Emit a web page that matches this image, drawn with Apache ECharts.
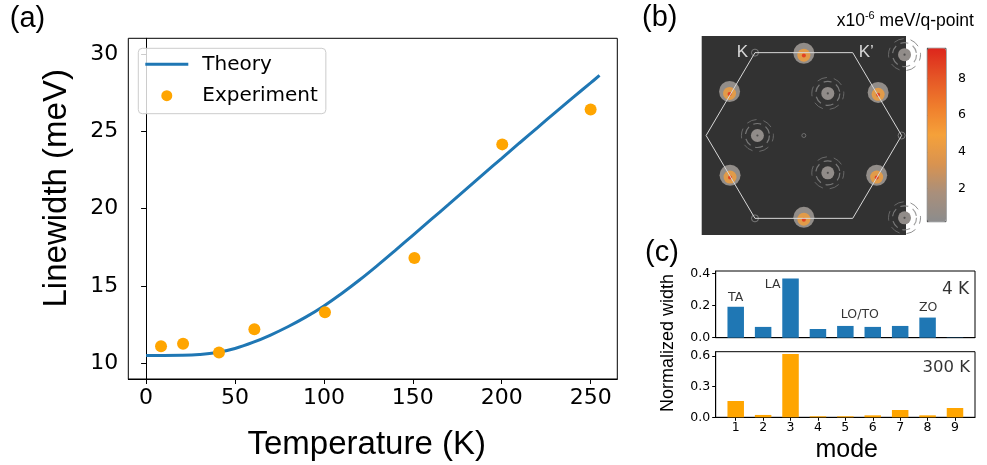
<!DOCTYPE html>
<html>
<head>
<meta charset="utf-8">
<script src="https://cdn.jsdelivr.net/npm/echarts@6/dist/echarts.min.js"></script>
<style>
  html, body { margin: 0; padding: 0; background: #fff; }
  #chart { width: 987px; height: 465px; }
</style>
</head>
<body>
<div id="chart"></div>
<script>
// ---- (a) linewidth vs temperature ----
const temperatureK = [0, 10, 20, 30, 40, 50, 60, 70, 80, 90, 100, 110, 120, 130, 140, 150, 160, 170, 180, 190, 200, 210, 220, 230, 240, 250, 255];
const theoryLinewidth = [10.52, 10.52, 10.53, 10.58, 10.71, 10.97, 11.36, 11.84, 12.39, 13.01, 13.72, 14.52, 15.39, 16.32, 17.29, 18.28, 19.27, 20.26, 21.26, 22.26, 23.25, 24.24, 25.22, 26.2, 27.17, 28.12, 28.6];
const expTemperature = [8.4, 20.8, 41, 60.9, 100.6, 150.9, 200.3, 250];
const expLinewidth = [11.12, 11.27, 10.71, 12.21, 13.31, 16.81, 24.15, 26.41];
const tempTicks = [0, 50, 100, 150, 200, 250];
const widthTicks = [10, 15, 20, 25, 30];

// ---- (b) Brillouin-zone map (hexagon radius = 1) ----
const zoneVertices = [[-0.5, 0.866], [0.5, 0.866], [1, 0], [0.5, -0.866], [-0.5, -0.866], [-1, 0], [-0.5, 0.866]];
const mPointSpots = [[0, 0.86], [-0.76, 0.46], [0.76, 0.45], [-0.755, -0.415], [0.745, -0.415], [0, -0.855]];
const spotHalo = 0.5;
const spotCore = 4.6;
const spotPeak = 8.7;
const ringSpots = [[-0.475, 0], [0.245, 0.44], [0.245, -0.39], [1.03, 0.845], [1.03, -0.86]];
const ringLevel = 0.45;
const kPoints = [[-0.5, 0.866], [1, 0], [-0.5, -0.866]];
const gammaPoint = [[0, 0]];
const cbarMin = 0.2;
const cbarMax = 9.64;
const cbarTicks = [2, 4, 6, 8];

// ---- (c) normalized width per mode ----
const modes = [1, 2, 3, 4, 5, 6, 7, 8, 9];
const width4K = [0.192, 0.067, 0.367, 0.054, 0.073, 0.067, 0.073, 0.125, 0.002];
const width300K = [0.159, 0.023, 0.617, 0.010, 0.010, 0.019, 0.071, 0.019, 0.091];
const width4KTicks = [0, 0.2, 0.4];
const width300KTicks = [0, 0.3, 0.6];
const branchLabels = ['TA', 'LA', 'LO/TO', 'ZO'];
const branchLabelPos = [[1.0, 0.248], [2.35, 0.327], [5.53, 0.141], [8.02, 0.183]];

const zip = (a, b) => a.map((v, i) => [v, b[i]]);
const TICK_FONT = 'DejaVu Sans';
const TITLE_FONT = '"Liberation Sans", Arial, Helvetica, sans-serif';
const BLUE = '#1f77b4';
const ORANGE = '#ffa500';

const chart = echarts.init(document.getElementById('chart'), null, { renderer: 'canvas' });

const boxAxis = (extra) => Object.assign({
  type: 'value',
  axisLine: { show: true, lineStyle: { color: '#000', width: 1 } },
  splitLine: { show: false }
}, extra);

const option = {
  animation: false,
  backgroundColor: '#fff',
  textStyle: { fontFamily: TICK_FONT },
  grid: [
    { left: 128.3, top: 38.3, width: 489, height: 340.7, show: true, borderColor: '#000', borderWidth: 1, backgroundColor: 'transparent', outerBoundsMode: 'none' },
    { left: 701.7, top: 36, width: 204.3, height: 199, show: true, borderWidth: 0, backgroundColor: '#323232', outerBoundsMode: 'none' },
    { left: 927.3, top: 48.3, width: 18.7, height: 173.4, show: true, borderColor: '#555', borderWidth: 1, backgroundColor: 'transparent', outerBoundsMode: 'none' },
    { left: 715.7, top: 271, width: 259.3, height: 66.7, show: true, borderColor: '#000', borderWidth: 1, backgroundColor: 'transparent', outerBoundsMode: 'none' },
    { left: 715.7, top: 351.7, width: 259.3, height: 65.6, show: true, borderColor: '#000', borderWidth: 1, backgroundColor: 'transparent', outerBoundsMode: 'none' }
  ],
  xAxis: [
    boxAxis({
      gridIndex: 0, min: -10, max: 265,
      axisTick: { show: true, length: 5, customValues: tempTicks, lineStyle: { color: '#000' } },
      axisLabel: { customValues: tempTicks, fontSize: 22, fontFamily: TICK_FONT, color: '#000', margin: 8 }
    }),
    { gridIndex: 1, type: 'value', min: -1.045, max: 1.045, show: false },
    { gridIndex: 2, type: 'value', min: 0, max: 1, show: false },
    boxAxis({
      gridIndex: 3, min: 0.27, max: 9.73,
      axisTick: { show: false }, axisLabel: { show: false }
    }),
    boxAxis({
      gridIndex: 4, min: 0.27, max: 9.73,
      axisTick: { show: true, length: 3.5, customValues: modes, lineStyle: { color: '#000' } },
      axisLabel: { customValues: modes, fontSize: 12.5, fontFamily: TICK_FONT, color: '#000', margin: 4 }
    })
  ],
  yAxis: [
    boxAxis({
      gridIndex: 0, min: 9, max: 31,
      axisTick: { show: true, length: 5, customValues: widthTicks, lineStyle: { color: '#000' } },
      axisLabel: { customValues: widthTicks, fontSize: 22, fontFamily: TICK_FONT, color: '#000', margin: 10 }
    }),
    { gridIndex: 1, type: 'value', min: -1.04, max: 1.04, show: false },
    {
      gridIndex: 2, type: 'value', position: 'right', min: cbarMin, max: cbarMax,
      axisLine: { show: true, lineStyle: { color: '#555' } },
      splitLine: { show: false },
      axisTick: { show: true, length: 3.5, customValues: cbarTicks, lineStyle: { color: '#333' } },
      axisLabel: { customValues: cbarTicks, fontSize: 12.5, fontFamily: TICK_FONT, color: '#000', margin: 12 }
    },
    boxAxis({
      gridIndex: 3, min: 0, max: 0.414,
      axisTick: { show: true, length: 3.5, customValues: width4KTicks, lineStyle: { color: '#000' } },
      axisLabel: { customValues: width4KTicks, fontSize: 12.5, fontFamily: TICK_FONT, color: '#000', margin: 5.5, formatter: v => v.toFixed(1) }
    }),
    boxAxis({
      gridIndex: 4, min: 0, max: 0.64,
      axisTick: { show: true, length: 3.5, customValues: width300KTicks, lineStyle: { color: '#000' } },
      axisLabel: { customValues: width300KTicks, fontSize: 12.5, fontFamily: TICK_FONT, color: '#000', margin: 5.5, formatter: v => v.toFixed(1) }
    })
  ],
  legend: {
    data: [
      { name: 'Theory', icon: 'path://M0,0 L43,0 L43,3 L0,3 Z' },
      { name: 'Experiment', icon: 'circle' }
    ],
    orient: 'vertical',
    left: 138.3, top: 48.3,
    itemWidth: 43, itemHeight: 11, itemGap: 11.4,
    padding: [6, 8, 8, 7],
    borderColor: '#cccccc', borderWidth: 1, borderRadius: 4,
    backgroundColor: 'rgba(255,255,255,0.8)',
    selectedMode: false,
    textStyle: { fontFamily: TICK_FONT, fontSize: 20, color: '#000', lineHeight: 20, padding: [0, 0, 0, 9] }
  },
  visualMap: [{
    type: 'continuous',
    min: cbarMin, max: cbarMax,
    dimension: 2,
    seriesIndex: [2, 3, 4, 5],
    calculable: false,
    hoverLink: false,
    showLabel: false,
    orient: 'vertical',
    left: 927.3, top: 48.3,
    itemWidth: 18.7, itemHeight: 173.4,
    padding: 0,
    inRange: { color: ['#8c8c8c', '#a98f7b', '#d99350', '#f5a13a', '#ef7d2c', '#e55526', '#dd261c'] }
  }],
  series: [
    {
      name: 'Theory', type: 'line', xAxisIndex: 0, yAxisIndex: 0,
      data: zip(temperatureK, theoryLinewidth),
      smooth: 0.4, symbol: 'none', showSymbol: false,
      lineStyle: { color: BLUE, width: 3 }, itemStyle: { color: BLUE }, z: 3
    },
    {
      name: 'Experiment', type: 'scatter', xAxisIndex: 0, yAxisIndex: 0,
      data: zip(expTemperature, expLinewidth),
      symbolSize: 12, itemStyle: { color: ORANGE, opacity: 1 }, z: 4
    },
    // spots at the zone-edge midpoints: halo, core, peak
    {
      type: 'scatter', xAxisIndex: 1, yAxisIndex: 1, clip: true, silent: true,
      data: mPointSpots.map(p => [p[0], p[1], spotHalo]), symbolSize: 21, itemStyle: { opacity: 1 }
    },
    {
      type: 'scatter', xAxisIndex: 1, yAxisIndex: 1, clip: true, silent: true,
      data: mPointSpots.map(p => [p[0], p[1] - 0.02, spotCore]), symbolSize: 13, itemStyle: { opacity: 0.85 }
    },
    {
      type: 'scatter', xAxisIndex: 1, yAxisIndex: 1, clip: true, silent: true,
      data: mPointSpots.map(p => [p[0], p[1] - 0.025, spotPeak]), symbolSize: 4, itemStyle: { opacity: 1 }
    },
    // grey discs inside the zone
    {
      type: 'scatter', xAxisIndex: 1, yAxisIndex: 1, clip: true, silent: true,
      data: ringSpots.map(p => [p[0], p[1], ringLevel]), symbolSize: 13, itemStyle: { opacity: 1 }
    },
    // broken rings around the grey discs
    {
      type: 'scatter', xAxisIndex: 1, yAxisIndex: 1, clip: true, silent: true,
      data: ringSpots, symbolSize: 24,
      itemStyle: { color: 'rgba(0,0,0,0)', borderColor: '#8a8a8a', borderWidth: 1.2, borderType: [8, 5] }
    },
    {
      type: 'scatter', xAxisIndex: 1, yAxisIndex: 1, clip: true, silent: true,
      data: ringSpots, symbolSize: 32,
      itemStyle: { color: 'rgba(0,0,0,0)', borderColor: '#767676', borderWidth: 1, borderType: [10, 7], borderDashOffset: 4 }
    },
    {
      type: 'scatter', xAxisIndex: 1, yAxisIndex: 1, clip: true, silent: true,
      data: ringSpots, symbolSize: 2.2, itemStyle: { color: '#404040' }
    },
    // small circles at K and Gamma
    {
      type: 'scatter', xAxisIndex: 1, yAxisIndex: 1, clip: true, silent: true,
      data: kPoints, symbolSize: 7,
      itemStyle: { color: 'rgba(0,0,0,0)', borderColor: '#8a8a8a', borderWidth: 1 }
    },
    {
      type: 'scatter', xAxisIndex: 1, yAxisIndex: 1, clip: true, silent: true,
      data: gammaPoint, symbolSize: 4,
      itemStyle: { color: 'rgba(0,0,0,0)', borderColor: '#7a7a7a', borderWidth: 1 }
    },
    // Brillouin-zone boundary
    {
      type: 'line', xAxisIndex: 1, yAxisIndex: 1, silent: true,
      data: zoneVertices, symbol: 'none', smooth: false,
      lineStyle: { color: '#d8d8d8', width: 1 }, z: 5
    },
    // K / K' labels
    {
      type: 'scatter', xAxisIndex: 1, yAxisIndex: 1, silent: true, symbolSize: 0, z: 6,
      data: [
        { value: zoneVertices[0], label: { show: true, formatter: 'K', position: 'left', distance: 7 } },
        { value: zoneVertices[1], label: { show: true, formatter: 'K\u2019', position: 'right', distance: 6 } }
      ],
      label: { color: '#fff', fontSize: 17, fontFamily: TITLE_FONT }
    },
    // mode-resolved widths
    {
      type: 'bar', xAxisIndex: 3, yAxisIndex: 3,
      data: zip(modes, width4K), barWidth: 16.5, itemStyle: { color: BLUE }
    },
    {
      type: 'bar', xAxisIndex: 4, yAxisIndex: 4,
      data: zip(modes, width300K), barWidth: 16.5, itemStyle: { color: ORANGE }
    },
    // branch names and temperatures
    {
      type: 'scatter', xAxisIndex: 3, yAxisIndex: 3, silent: true, symbolSize: 0, z: 6,
      data: branchLabels.map((t, i) => ({ value: branchLabelPos[i], label: { formatter: t } }))
        .concat([{ value: [9.52, 0.296], label: { formatter: '4 K', fontSize: 17, align: 'right' } }]),
      label: { show: true, position: 'inside', color: '#000', fontSize: 12.5, fontFamily: TICK_FONT }
    },
    {
      type: 'scatter', xAxisIndex: 4, yAxisIndex: 4, silent: true, symbolSize: 0, z: 6,
      data: [{ value: [9.55, 0.483], label: { formatter: '300 K' } }],
      label: { show: true, position: 'inside', align: 'right', color: '#000', fontSize: 16.5, fontFamily: TICK_FONT }
    }
  ],
  graphic: [
    { type: 'text', x: 27.5, y: 19, style: { text: '(a)', font: '29px ' + TITLE_FONT, fill: '#000', textAlign: 'center', textVerticalAlign: 'middle' } },
    { type: 'text', x: 659.7, y: 18, style: { text: '(b)', font: '29px ' + TITLE_FONT, fill: '#000', textAlign: 'center', textVerticalAlign: 'middle' } },
    { type: 'text', x: 662, y: 253, style: { text: '(c)', font: '29px ' + TITLE_FONT, fill: '#000', textAlign: 'center', textVerticalAlign: 'middle' } },
    { type: 'text', x: 56.7, y: 188.3, rotation: Math.PI / 2, style: { text: 'Linewidth (meV)', font: '33px ' + TITLE_FONT, fill: '#000', textAlign: 'center', textVerticalAlign: 'middle' } },
    { type: 'text', x: 366.7, y: 445, style: { text: 'Temperature (K)', font: '33px ' + TITLE_FONT, fill: '#000', textAlign: 'center', textVerticalAlign: 'middle' } },
    { type: 'text', x: 668, y: 343, rotation: Math.PI / 2, style: { text: 'Normalized width', font: '18px ' + TITLE_FONT, fill: '#000', textAlign: 'center', textVerticalAlign: 'middle' } },
    { type: 'text', x: 846.7, y: 450, style: { text: 'mode', font: '25px ' + TITLE_FONT, fill: '#000', textAlign: 'center', textVerticalAlign: 'middle' } },
    {
      type: 'text', x: 836.7, y: 21,
      style: {
        text: 'x10{sup|-6} meV/q-point',
        font: '17.5px ' + TITLE_FONT, fill: '#000', textAlign: 'left', textVerticalAlign: 'middle',
        rich: { sup: { fontSize: 11, fontFamily: TITLE_FONT, padding: [0, 0, 10, 0] } }
      }
    }
  ]
};

chart.setOption(option);
</script>
</body>
</html>
